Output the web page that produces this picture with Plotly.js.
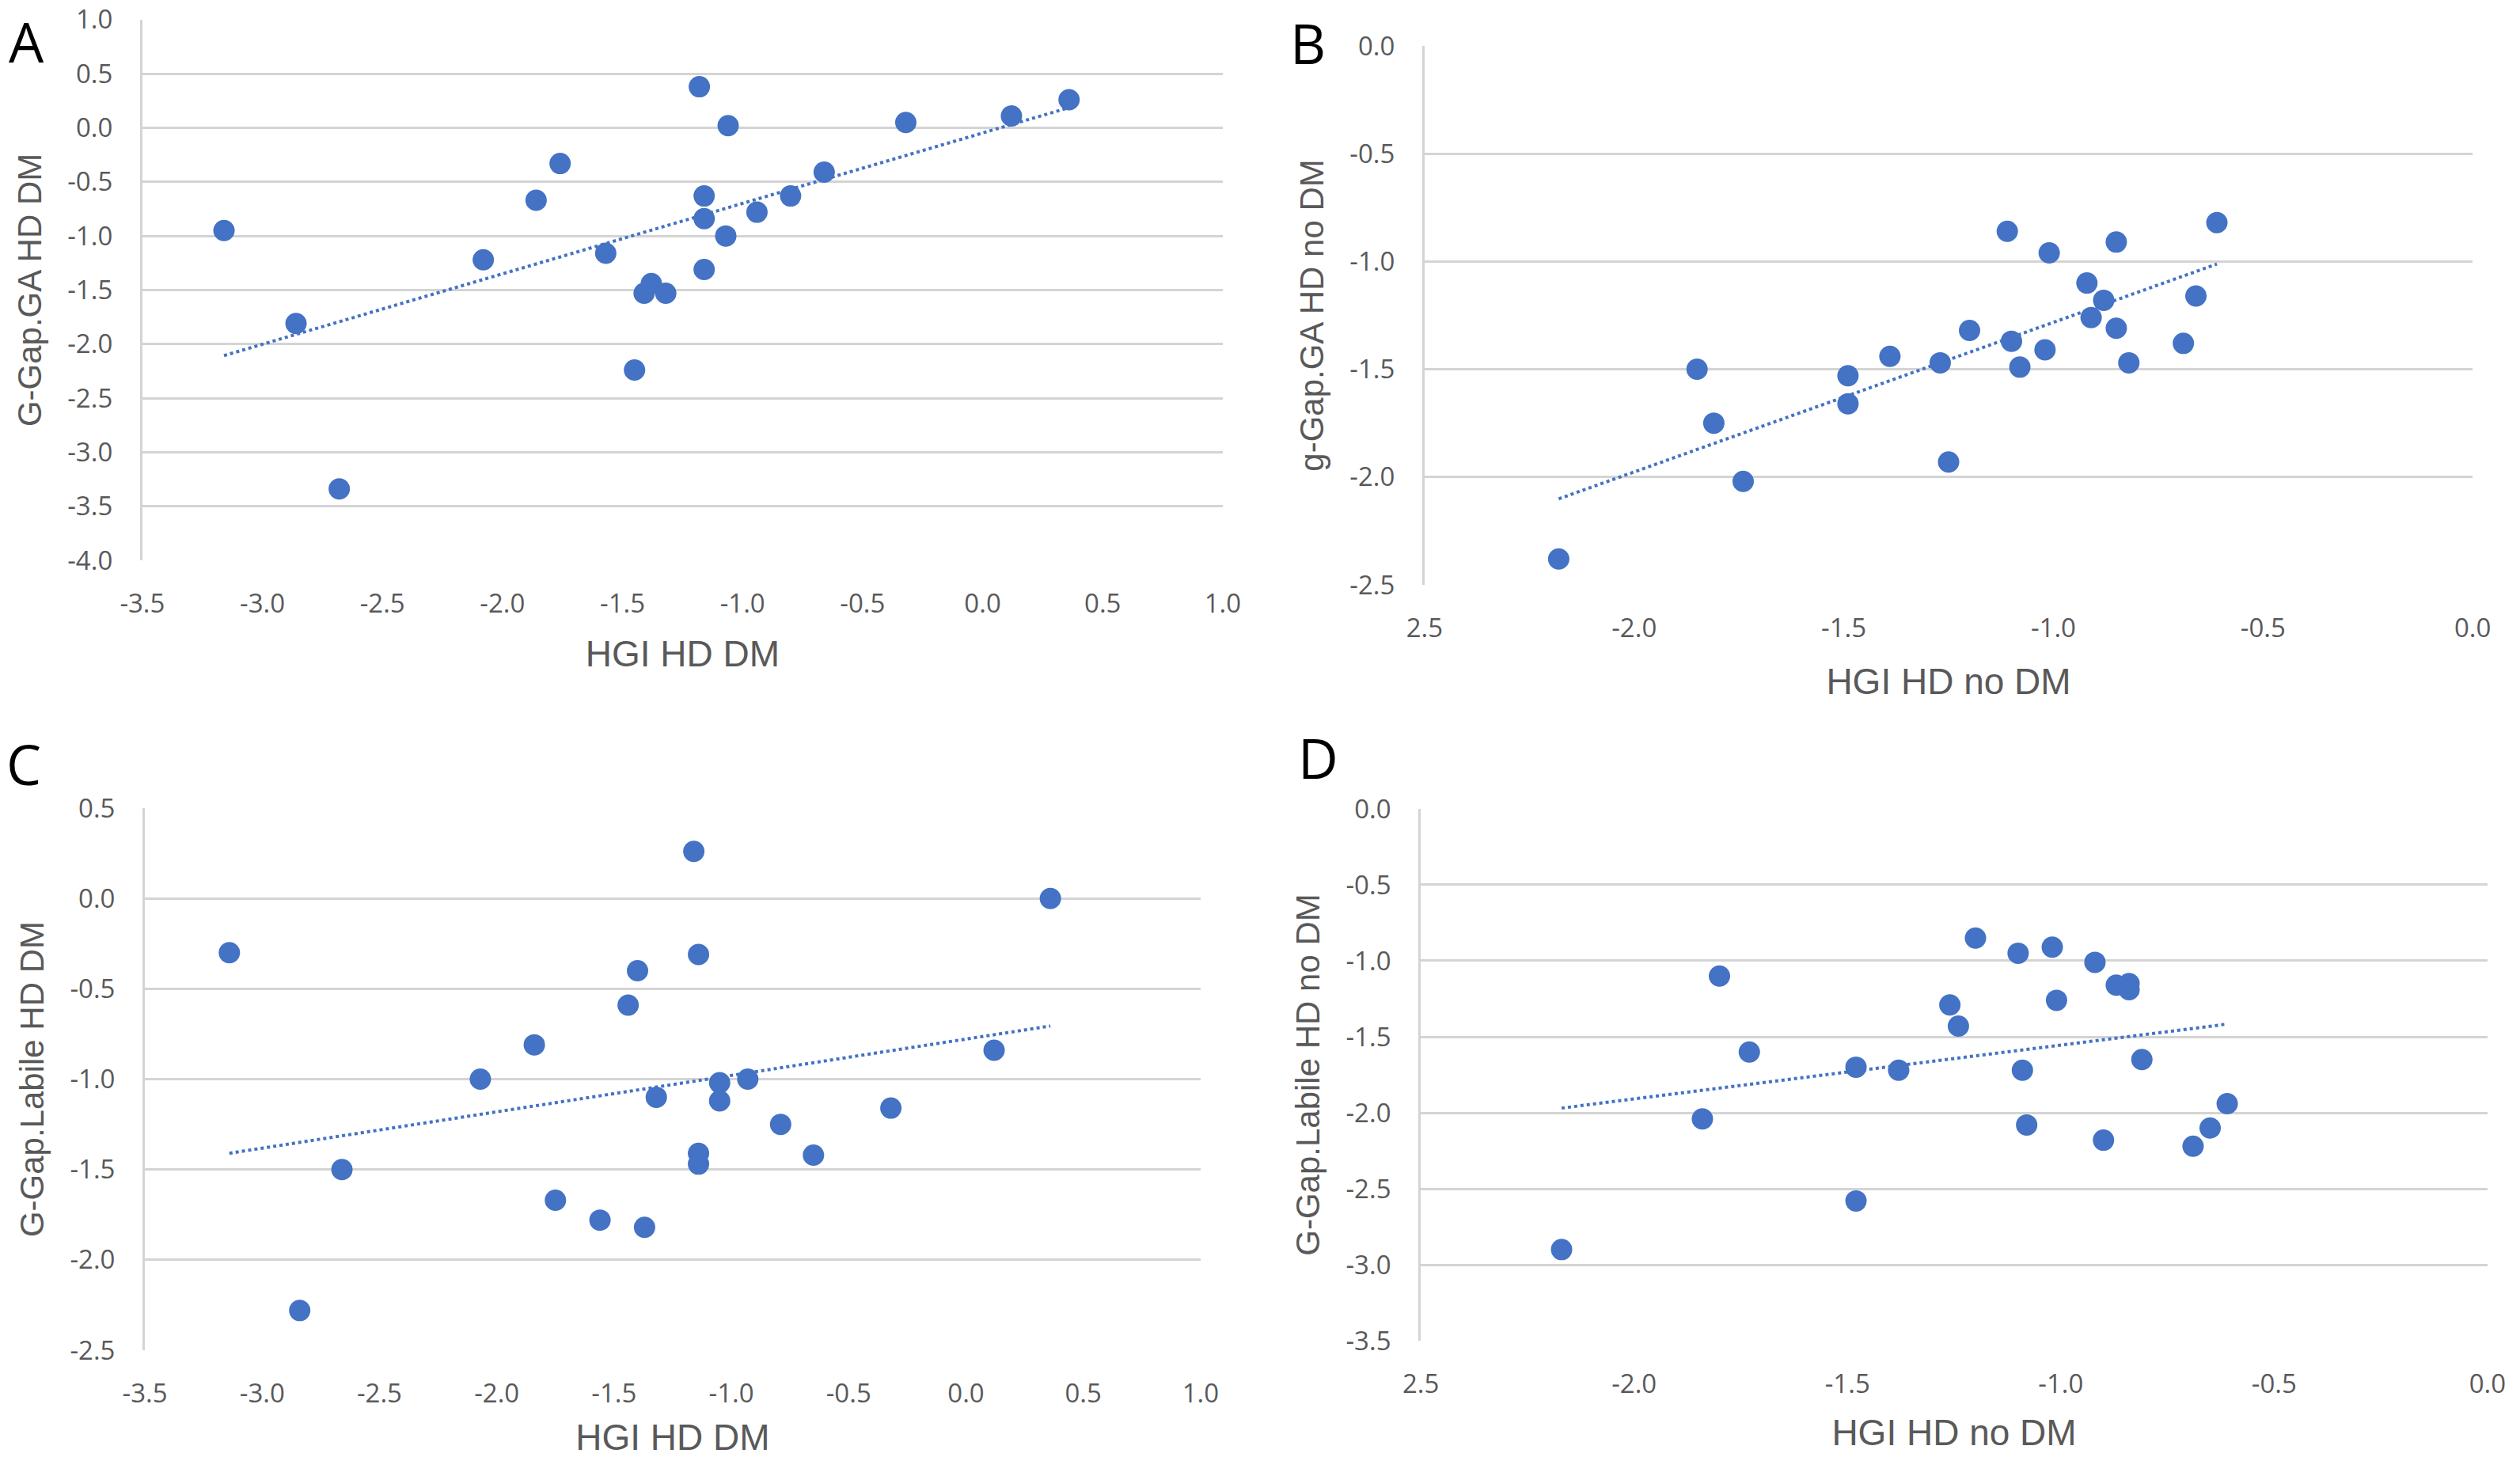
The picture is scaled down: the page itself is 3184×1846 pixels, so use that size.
<!DOCTYPE html>
<html>
<head>
<meta charset="utf-8">
<script src="https://cdn.plot.ly/plotly-3.0.1.min.js"></script>
<style>html,body{margin:0;padding:0;background:#fff;}#chart{width:3184px;height:1846px;}</style>
</head>
<body>
<div id="chart"></div>
<script>
// Panel A: HGI HD DM vs G-Gap.GA HD DM
const xA = [-3.16, -2.86, -2.68, -2.08, -1.86, -1.76, -1.57, -1.18, -1.16, -1.16, -1.16, -1.06, -1.07, -1.38, -1.41, -1.32, -1.45, -0.94, -0.80, -0.66, -0.32, 0.12, 0.36];
const yA = [-0.95, -1.81, -3.34, -1.22, -0.67, -0.33, -1.16, 0.38, -0.63, -0.84, -1.31, 0.02, -1.00, -1.44, -1.53, -1.53, -2.24, -0.78, -0.63, -0.41, 0.05, 0.11, 0.26];
// Panel B: HGI HD no DM vs g-Gap.GA HD no DM
const xB = [-2.18, -1.85, -1.81, -1.74, -1.49, -1.49, -1.39, -1.27, -1.25, -1.20, -1.11, -1.10, -1.08, -1.01, -1.02, -0.92, -0.91, -0.88, -0.85, -0.85, -0.82, -0.69, -0.66, -0.61];
const yB = [-2.38, -1.50, -1.75, -2.02, -1.53, -1.66, -1.44, -1.47, -1.93, -1.32, -0.86, -1.37, -1.49, -0.96, -1.41, -1.10, -1.26, -1.18, -0.91, -1.31, -1.47, -1.38, -1.16, -0.82];
// Panel C: HGI HD DM vs G-Gap.Labile HD DM
const xC = [-3.14, -2.84, -2.66, -2.07, -1.84, -1.75, -1.56, -1.44, -1.40, -1.37, -1.32, -1.16, -1.14, -1.14, -1.14, -1.05, -1.05, -0.93, -0.79, -0.65, -0.32, 0.12, 0.36];
const yC = [-0.30, -2.28, -1.50, -1.00, -0.81, -1.67, -1.78, -0.59, -0.40, -1.82, -1.10, 0.26, -0.31, -1.41, -1.47, -1.02, -1.12, -1.00, -1.25, -1.42, -1.16, -0.84, 0.00];
// Panel D: HGI HD no DM vs G-Gap.Labile HD no DM
const xD = [-2.17, -1.84, -1.80, -1.73, -1.48, -1.48, -1.38, -1.26, -1.24, -1.20, -1.10, -1.09, -1.08, -1.02, -1.01, -0.92, -0.90, -0.87, -0.84, -0.84, -0.81, -0.69, -0.65, -0.61];
const yD = [-2.90, -2.04, -1.10, -1.60, -1.70, -2.58, -1.72, -1.29, -1.43, -0.85, -0.95, -1.72, -2.08, -0.91, -1.26, -1.01, -2.18, -1.16, -1.15, -1.19, -1.65, -2.22, -2.10, -1.94];

// x tick labels
const ticksDM = [-3.5, -3.0, -2.5, -2.0, -1.5, -1.0, -0.5, 0.0, 0.5, 1.0];
const ticksDMText = ["-3.5", "-3.0", "-2.5", "-2.0", "-1.5", "-1.0", "-0.5", "0.0", "0.5", "1.0"];
const ticksNoDM = [-2.5, -2.0, -1.5, -1.0, -0.5, 0.0];
const ticksNoDMText = ["2.5", "-2.0", "-1.5", "-1.0", "-0.5", "0.0"];
// y tick labels
const yTicksA = [1.0, 0.5, 0.0, -0.5, -1.0, -1.5, -2.0, -2.5, -3.0, -3.5, -4.0];
const yTicksAText = ["1.0", "0.5", "0.0", "-0.5", "-1.0", "-1.5", "-2.0", "-2.5", "-3.0", "-3.5", "-4.0"];
const yTicksB = [0.0, -0.5, -1.0, -1.5, -2.0, -2.5];
const yTicksBText = ["0.0", "-0.5", "-1.0", "-1.5", "-2.0", "-2.5"];
const yTicksC = [0.5, 0.0, -0.5, -1.0, -1.5, -2.0, -2.5];
const yTicksCText = ["0.5", "0.0", "-0.5", "-1.0", "-1.5", "-2.0", "-2.5"];
const yTicksD = [0.0, -0.5, -1.0, -1.5, -2.0, -2.5, -3.0, -3.5];
const yTicksDText = ["0.0", "-0.5", "-1.0", "-1.5", "-2.0", "-2.5", "-3.0", "-3.5"];

const panelLetters = ["A", "B", "C", "D"];
const yTitles = ["G-Gap.GA HD DM", "g-Gap.GA HD no DM", "G-Gap.Labile HD DM", "G-Gap.Labile HD no DM"];
const xTitles = ["HGI HD DM", "HGI HD no DM", "HGI HD DM", "HGI HD no DM"];

const BLUE = "#4472C4";
const GRID = "#d4d4d4";
const TICKC = "#595959";

function fit(xs, ys) {
  const n = xs.length;
  let sx = 0, sy = 0, sxx = 0, sxy = 0;
  for (let i = 0; i < n; i++) { sx += xs[i]; sy += ys[i]; sxx += xs[i] * xs[i]; sxy += xs[i] * ys[i]; }
  const b = (n * sxy - sx * sy) / (n * sxx - sx * sx);
  const a = (sy - b * sx) / n;
  const x0 = Math.min(...xs), x1 = Math.max(...xs);
  return { x: [x0, x1], y: [a + b * x0, a + b * x1] };
}

const sets = [[xA, yA], [xB, yB], [xC, yC], [xD, yD]];
const traces = [];
sets.forEach((s, i) => {
  const ax = i === 0 ? "" : String(i + 1);
  const f = fit(s[0], s[1]);
  traces.push({ x: f.x, y: f.y, type: "scatter", mode: "lines", xaxis: "x" + ax, yaxis: "y" + ax,
    line: { color: BLUE, width: 4, dash: "dot" }, showlegend: false, hoverinfo: "skip" });
  traces.push({ x: s[0], y: s[1], type: "scatter", mode: "markers", xaxis: "x" + ax, yaxis: "y" + ax,
    marker: { color: BLUE, size: 27, line: { width: 0 } }, showlegend: false });
});

const tickFont = { family: "Open Sans, Liberation Sans, sans-serif", size: 33, color: TICKC };
const xTitleFont = { family: "Liberation Sans Narrow, Liberation Sans, sans-serif", size: 46, color: TICKC };
const yTitleFont = { family: "Liberation Sans, Arial, sans-serif", size: 42, color: TICKC };

function xaxis(domain, anchor, range, tv, tt, title, standoff) {
  return { domain, anchor, range, tickvals: tv, ticktext: tt, showgrid: false, zeroline: false,
    showline: false, ticks: "", ticklabelstandoff: 32, tickfont: tickFont, fixedrange: true,
    title: { text: title, font: xTitleFont, standoff: standoff } };
}
function yaxis(domain, anchor, range, tv, tt, title, standoff) {
  return { domain, anchor, range, tickvals: tv, ticktext: tt, showgrid: true, gridcolor: GRID, gridwidth: 3,
    zeroline: false, showline: true, linecolor: GRID, linewidth: 3, ticks: "", ticklabelstandoff: 28,
    tickfont: tickFont, fixedrange: true,
    title: { text: title, font: yTitleFont, standoff: standoff } };
}

const layout = {
  width: 3184, height: 1846,
  margin: { l: 0, r: 0, t: 0, b: 0 },
  paper_bgcolor: "#ffffff", plot_bgcolor: "#ffffff",
  showlegend: false,
  xaxis: xaxis([0.0565, 0.4852], "y", [-3.5, 1.0], ticksDM, ticksDMText, xTitles[0], 26),
  yaxis: yaxis([0.6165, 0.9865], "x", [-4.0, 1.0], yTicksA, yTicksAText, yTitles[0], 20),
  xaxis2: xaxis([0.5653, 0.9812], "y2", [-2.5, 0.0], ticksNoDM, ticksNoDMText, xTitles[1], 30),
  yaxis2: yaxis([0.5997, 0.9686], "x2", [-2.5, 0.0], yTicksB, yTicksBText, yTitles[1], 20),
  xaxis3: xaxis([0.0575, 0.4764], "y3", [-3.5, 1.0], ticksDM, ticksDMText, xTitles[2], 18),
  yaxis3: yaxis([0.0758, 0.4469], "x3", [-2.5, 0.5], yTicksC, yTicksCText, yTitles[2], 20),
  xaxis4: xaxis([0.5638, 0.9871], "y4", [-2.5, 0.0], ticksNoDM, ticksNoDMText, xTitles[3], 24),
  yaxis4: yaxis([0.0823, 0.4464], "x4", [-3.5, 0.0], yTicksD, yTicksDText, yTitles[3], 20),
  annotations: [
    { text: panelLetters[0], x: 33 / 3184, y: 1 - 2 / 1846 },
    { text: panelLetters[1], x: 1652 / 3184, y: 1 - 4 / 1846 },
    { text: panelLetters[2], x: 30 / 3184, y: 1 - 915 / 1846 },
    { text: panelLetters[3], x: 1665 / 3184, y: 1 - 907 / 1846 }
  ].map(a => Object.assign({ xref: "paper", yref: "paper", xanchor: "center", yanchor: "top", showarrow: false,
    font: { family: "Open Sans, Liberation Sans, sans-serif", size: 70, color: "#000000" } }, a))
};

Plotly.newPlot("chart", traces, layout, { staticPlot: true, displayModeBar: false });
</script>
</body>
</html>
